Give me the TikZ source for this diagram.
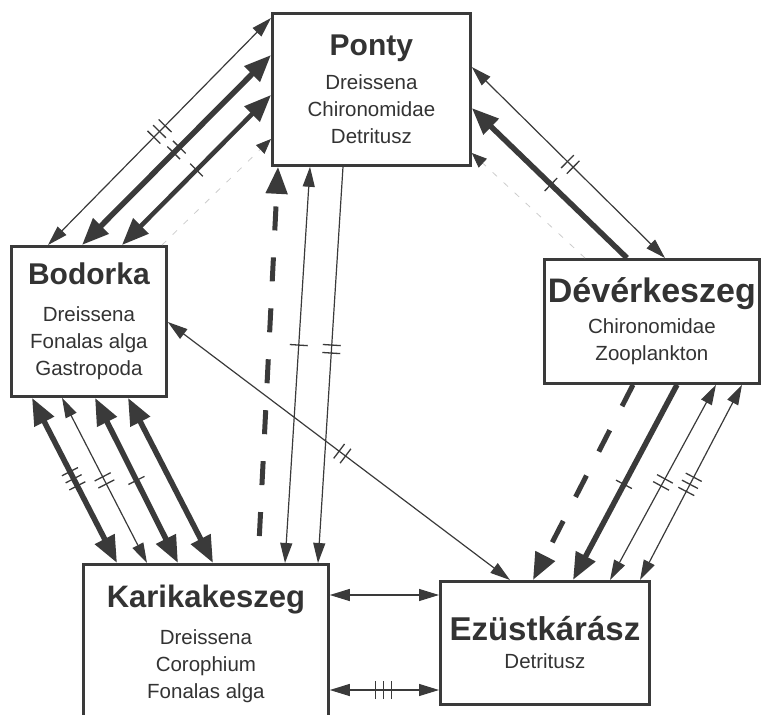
\documentclass[tikz,border=0pt]{standalone}
\usepackage{fontspec}
\setmainfont{Liberation Sans}
\usepackage{xcolor}
\usetikzlibrary{arrows.meta,decorations.markings}
\definecolor{ink}{HTML}{3A3A3A}
\definecolor{inktext}{HTML}{333333}

\begin{document}
\begin{tikzpicture}[
    x=1pt, y=-1pt,
    fishbox/.style={draw=ink, line width=2.8pt, fill=white, anchor=north west, align=center, inner sep=0pt, text=inktext, font=\fontsize{20.5}{27}\selectfont},
    tipS/.tip={Triangle[length=20pt,width=12pt]},
    tipL/.tip={Triangle[length=27pt,width=21pt]},
    tipF/.tip={Triangle[length=15pt,width=12pt,color=ink]},
    thinlink/.style={draw=ink, line width=1.2pt, tipS-tipS},
    thicklink/.style={draw=ink, line width=5.5pt, tipL-tipL},
    midlink/.style={draw=ink, line width=4.5pt, tipL-tipL},
    dashlink/.style={draw=ink, line width=5pt, dash pattern=on 24pt off 27pt, -tipL},
    faintlink/.style={draw=gray!40, line width=0.8pt, dash pattern=on 6pt off 9pt, -tipF},
    ticks/.style 2 args={postaction={decorate, decoration={markings, mark=at position #2 with {\foreach \k in {1,...,#1} {\draw[ink, solid, line width=1.3pt, -] ({(\k-(#1+1)/2)*8pt},-9pt) -- ({(\k-(#1+1)/2)*8pt},9pt);}}}}}
]
\useasboundingbox (0,0) rectangle (761,715);

\node[fishbox, minimum width=198pt, minimum height=152pt] (ponty) at (271,12) {{\fontsize{30}{36}\selectfont\bfseries Ponty}\\[7pt]Dreissena\\Chironomidae\\Detritusz};
\node[fishbox, minimum width=155pt, minimum height=150pt] (bodorka) at (10,245) {{\fontsize{30}{36}\selectfont\bfseries Bodorka}\\[10pt]Dreissena\\Fonalas alga\\Gastropoda};
\node[fishbox, minimum width=215pt, minimum height=124pt] (dever) at (543,258) {{\fontsize{34}{40}\selectfont\bfseries Dévérkeszeg}\\[4pt]Chironomidae\\Zooplankton};
\node[fishbox, minimum width=245pt, minimum height=158pt] (karik) at (82,563) {{\fontsize{31}{37}\selectfont\bfseries Karikakeszeg}\\[10pt]Dreissena\\Corophium\\Fonalas alga};
\node[fishbox, minimum width=209pt, minimum height=123pt] (ezust) at (439,580) {{\fontsize{33}{39}\selectfont\bfseries Ezüstkárász}\\[1pt]Detritusz};

\draw[thinlink, ticks={3}{0.5}] ([yshift=-6pt]ponty.north west) -- ([xshift=38pt]bodorka.north west);
\draw[thicklink, ticks={2}{0.5}] ([yshift=-43pt]ponty.north west) -- ([xshift=72pt]bodorka.north west);
\draw[midlink, ticks={1}{0.5}] ([yshift=-83pt]ponty.north west) -- ([xshift=112pt]bodorka.north west);
\draw[faintlink] ([xshift=152pt]bodorka.north west) -- ([yshift=-127pt]ponty.north west);

\draw[thinlink, ticks={1}{0.45}] ([xshift=39pt]ponty.south west) -- ([xshift=203pt]karik.north west);
\draw[thinlink, -tipS, ticks={2}{0.46}] ([xshift=72pt]ponty.south west) -- ([xshift=236pt]karik.north west);
\draw[dashlink, dash phase=24pt] ([xshift=176pt]karik.north west) -- ([xshift=7pt]ponty.south west);

\draw[thicklink, ticks={3}{0.49}] ([xshift=22pt]bodorka.south west) -- ([xshift=35pt]karik.north west);
\draw[thinlink, ticks={2}{0.5}] ([xshift=52pt]bodorka.south west) -- ([xshift=65pt]karik.north west);
\draw[thicklink, ticks={1}{0.5}] ([xshift=85pt]bodorka.south west) -- ([xshift=96pt]karik.north west);
\draw[thicklink] ([xshift=118pt]bodorka.south west) -- ([xshift=131pt]karik.north west);

\draw[thinlink, ticks={2}{0.51}] ([yshift=-77pt]bodorka.north east) -- ([xshift=71pt]ezust.north west);

\draw[thinlink, ticks={2}{0.51}] ([yshift=-55pt]ponty.north east) -- ([xshift=122pt]dever.north west);
\draw[thicklink, tipL-, ticks={1}{0.51}] ([yshift=-96pt]ponty.north east) -- ([xshift=84pt]dever.north west);
\draw[faintlink] ([xshift=42pt]dever.north west) -- ([yshift=-141pt]ponty.north east);

\draw[dashlink] ([xshift=90pt]dever.south west) -- ([xshift=94pt]ezust.north west);
\draw[thicklink, -tipL, ticks={1}{0.51}] ([xshift=134pt]dever.south west) -- ([xshift=134pt]ezust.north west);
\draw[thinlink, ticks={2}{0.5}] ([xshift=173pt]dever.south west) -- ([xshift=171pt]ezust.north west);
\draw[thinlink, ticks={3}{0.51}] ([xshift=199pt]dever.south west) -- ([xshift=201pt]ezust.north west);

\draw[thinlink] ([yshift=-32pt]karik.north east) -- ([yshift=-15pt]ezust.north west);
\draw[thinlink, ticks={3}{0.49}] ([yshift=-127pt]karik.north east) -- ([yshift=-110pt]ezust.north west);

\end{tikzpicture}
\end{document}
